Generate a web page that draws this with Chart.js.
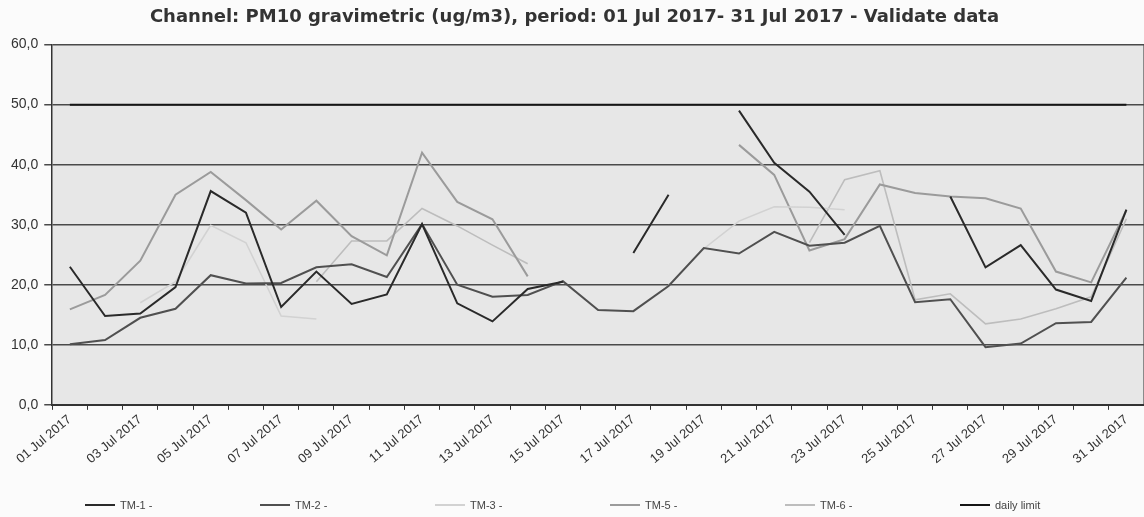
<!DOCTYPE html>
<html>
<head>
<meta charset="utf-8">
<script src="https://cdn.jsdelivr.net/npm/chart.js@4.4.1/dist/chart.umd.min.js"></script>
<style>
  html, body { margin: 0; padding: 0; background: #fbfbfb; }
  #wrap { position: relative; width: 1144px; height: 517px; overflow: hidden; }
  #legend { position: absolute; left: 85px; top: 498px; height: 14px; display: flex; }
  .li { width: 175px; display: flex; align-items: center; font: 11px "Liberation Sans", Arial, sans-serif; color: #444; }
  .li span.ln { display: inline-block; width: 30px; height: 2px; margin-right: 5px; }
</style>
</head>
<body>
<div id="wrap">
  <canvas id="c" width="1144" height="517"></canvas>
  <div id="legend"></div>
</div>
<script>
const categories = ['01 Jul 2017','02 Jul 2017','03 Jul 2017','04 Jul 2017','05 Jul 2017','06 Jul 2017','07 Jul 2017','08 Jul 2017','09 Jul 2017','10 Jul 2017','11 Jul 2017','12 Jul 2017','13 Jul 2017','14 Jul 2017','15 Jul 2017','16 Jul 2017','17 Jul 2017','18 Jul 2017','19 Jul 2017','20 Jul 2017','21 Jul 2017','22 Jul 2017','23 Jul 2017','24 Jul 2017','25 Jul 2017','26 Jul 2017','27 Jul 2017','28 Jul 2017','29 Jul 2017','30 Jul 2017','31 Jul 2017'];

const tm1 = [23.0, 14.8, 15.2, 19.6, 35.6, 32.0, 16.3, 22.2, 16.8, 18.4, 30.1, 16.9, 13.9, 19.3, 20.5, null, 25.3, 35.0, null, 49.0, 40.3, 35.5, 28.3, null, null, 34.7, 22.9, 26.6, 19.2, 17.3, 32.5];
const tm2 = [10.1, 10.8, 14.5, 16.0, 21.6, 20.2, 20.3, 22.9, 23.4, 21.3, 30.1, 20.0, 18.0, 18.3, 20.6, 15.8, 15.6, 19.8, 26.1, 25.2, 28.8, 26.5, 27.0, 29.8, 17.1, 17.6, 9.6, 10.2, 13.6, 13.8, 21.2];
const tm3 = [null, null, 17.0, 20.5, 29.9, 27.0, 14.8, 14.3, null, null, null, null, null, null, null, null, null, 19.9, 26.0, 30.6, 33.0, 32.9, 32.5, null, null, null, null, null, null, null, null];
const tm5 = [15.9, 18.3, 24.0, 35.0, 38.8, 34.1, 29.2, 34.0, 28.1, 24.9, 42.0, 33.8, 30.9, 21.4, null, null, null, null, null, 43.3, 38.3, 25.7, 27.6, 36.7, 35.3, 34.7, 34.4, 32.7, 22.2, 20.4, 32.4];
const tm6 = [null, null, null, null, null, null, null, 20.5, 27.3, 27.3, 32.7, 29.8, 26.6, 23.5, null, null, null, null, null, null, null, 27.0, 37.5, 39.0, 17.5, 18.5, 13.5, 14.3, 16.0, 18.0, 31.0];
const dailyLimit = [50, 50, 50, 50, 50, 50, 50, 50, 50, 50, 50, 50, 50, 50, 50, 50, 50, 50, 50, 50, 50, 50, 50, 50, 50, 50, 50, 50, 50, 50, 50];

const seriesNames = ['TM-1 -', 'TM-2 -', 'TM-3 -', 'TM-5 -', 'TM-6 -', 'daily limit'];
const yTicks = [0, 10, 20, 30, 40, 50, 60];
const titleText = 'Channel: PM10 gravimetric (ug/m3), period: 01 Jul 2017- 31 Jul 2017 - Validate data';

const colors = ['#2a2a2a', '#505050', '#d2d2d2', '#9b9b9b', '#bdbdbd', '#151515'];
const widths = [2, 2, 1.6, 2, 1.6, 2];
const seriesData = [tm1, tm2, tm3, tm5, tm6, dailyLimit];

const bgPlugin = {
  id: 'bg',
  beforeDraw(chart) {
    const {ctx, chartArea: a} = chart;
    ctx.save();
    ctx.fillStyle = '#fbfbfb';
    ctx.fillRect(0, 0, chart.width, chart.height);
    ctx.fillStyle = '#e7e7e7';
    ctx.fillRect(a.left, a.top, a.right - a.left, a.bottom - a.top);
    ctx.strokeStyle = '#8a8a8a';
    ctx.lineWidth = 1;
    ctx.beginPath();
    ctx.moveTo(a.right - 0.5, a.top);
    ctx.lineTo(a.right - 0.5, a.bottom);
    ctx.stroke();
    ctx.restore();
  }
};

const chart = new Chart(document.getElementById('c'), {
  type: 'line',
  data: {
    labels: categories,
    datasets: seriesData.map((d, i) => ({
      label: seriesNames[i],
      data: d,
      borderColor: colors[i],
      backgroundColor: colors[i],
      borderWidth: widths[i],
      pointRadius: 0,
      tension: 0,
      spanGaps: false
    }))
  },
  options: {
    responsive: false,
    devicePixelRatio: 1,
    animation: false,
    layout: { padding: { left: 5, right: 0, top: 0, bottom: 48 } },
    plugins: {
      legend: { display: false },
      tooltip: { enabled: false },
      title: {
        display: true,
        text: titleText,
        color: '#333',
        font: { family: 'DejaVu Sans', size: 18, weight: 'bold' },
        padding: { top: 7, bottom: 16 }
      }
    },
    scales: {
      x: {
        offset: true,
        grid: { display: true, drawOnChartArea: false, offset: true, color: '#333', tickLength: 5, lineWidth: 1 },
        border: { display: true, color: '#333', width: 2 },
        ticks: {
          autoSkip: false,
          minRotation: 40,
          maxRotation: 40,
          padding: 2,
          color: '#333',
          font: { family: 'Liberation Sans', size: 13 },
          callback: function(v, i) { return i % 2 === 0 ? categories[i] : ''; }
        }
      },
      y: {
        min: 0,
        max: 60,
        afterBuildTicks: (axis) => { axis.ticks = yTicks.map(v => ({ value: v })); },
        grid: { color: '#4a4a4a', lineWidth: 1.5, tickLength: 8 },
        border: { display: true, color: '#333', width: 1.5 },
        ticks: {
          padding: 6,
          color: '#333',
          font: { family: 'Liberation Sans', size: 14 },
          callback: (v) => Number(v).toFixed(1).replace('.', ',')
        }
      }
    }
  },
  plugins: [bgPlugin]
});

const lg = document.getElementById('legend');
chart.data.datasets.forEach((ds) => {
  const item = document.createElement('div');
  item.className = 'li';
  const ln = document.createElement('span');
  ln.className = 'ln';
  ln.style.background = ds.borderColor;
  const tx = document.createElement('span');
  tx.textContent = ds.label;
  item.appendChild(ln);
  item.appendChild(tx);
  lg.appendChild(item);
});
</script>
</body>
</html>
